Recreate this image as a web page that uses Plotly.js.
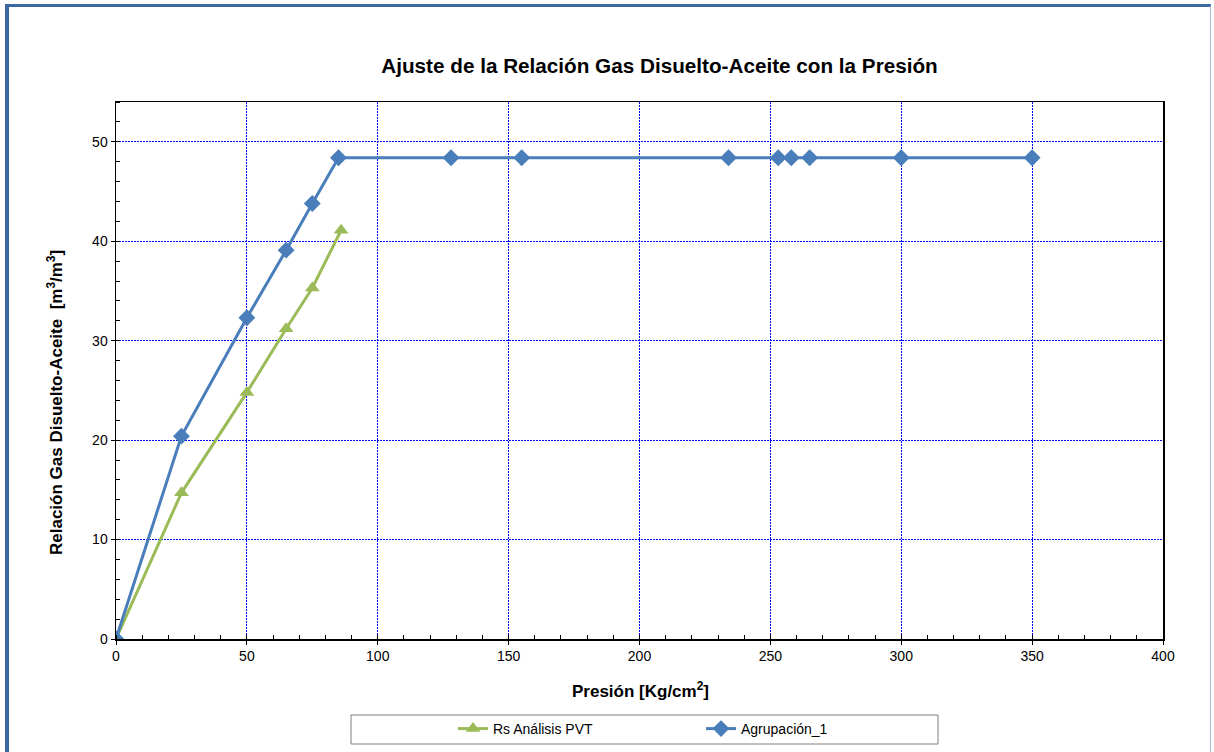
<!DOCTYPE html>
<html>
<head>
<meta charset="utf-8">
<script src="https://cdn.plot.ly/plotly-3.0.1.min.js"></script>
<style>
html,body{margin:0;padding:0;background:#fff;width:1214px;height:752px;overflow:hidden;}
#chart{position:absolute;left:0;top:0;width:1214px;height:752px;}
#frame{position:absolute;left:5px;top:4px;width:1206px;height:760px;border-left:4px solid #3B67A3;border-top:3px solid #3B67A3;border-right:1px solid #A9B8D0;pointer-events:none;box-sizing:border-box;}
</style>
</head>
<body>
<div id="chart"></div>
<div id="frame"></div>
<script>
const rsPresion = [0, 25, 50, 65, 75, 86];
const rsValores = [0, 14.7, 24.8, 31.2, 35.3, 41.1];
const agrPresion = [0, 25, 50, 65, 75, 85, 128, 155, 234, 253, 258, 265, 300, 350];
const agrValores = [0, 20.4, 32.3, 39.1, 43.8, 48.4, 48.4, 48.4, 48.4, 48.4, 48.4, 48.4, 48.4, 48.4];
const nombres = ['Rs Análisis PVT', 'Agrupación_1'];
const titulo = 'Ajuste de la Relación Gas Disuelto-Aceite con la Presión';
const tituloX = 'Presión [Kg/cm<sup>2</sup>]';
const tituloY = 'Relación Gas Disuelto-Aceite  [m<sup>3</sup>/m<sup>3</sup>]';

const font = 'Liberation Sans, Arial, sans-serif';
const L = 116, R = 1163, T = 102, B = 639;
const px = v => (v - L) / (R - L);
const py = v => (B - v) / (B - T);

const traces = [
  {x: rsPresion, y: rsValores, name: nombres[0], type: 'scatter', mode: 'lines+markers',
   line: {color: '#9BBB59', width: 3}, marker: {symbol: 'triangle-up', size: 13, color: '#9BBB59'}},
  {x: agrPresion, y: agrValores, name: nombres[1], type: 'scatter', mode: 'lines+markers',
   line: {color: '#4A7EBB', width: 3}, marker: {symbol: 'diamond', size: 13, color: '#4A7EBB'}}
];

const axisCommon = {
  showline: true, linecolor: '#000', linewidth: 1.5, mirror: true,
  ticks: 'outside', ticklen: 4, tickcolor: '#000', tickwidth: 1,
  showgrid: true, gridcolor: '#0000FF', griddash: '2px,1px', gridwidth: 1,
  zeroline: false, tickfont: {family: font, size: 14, color: '#000'}
};

const layout = {
  width: 1214, height: 752,
  margin: {l: L, r: 1214 - R, t: T, b: 752 - B, autoexpand: false},
  paper_bgcolor: '#fff', plot_bgcolor: '#fff',
  title: {text: '<b>' + titulo + '</b>', font: {family: font, size: 20.7, color: '#000'},
          x: 659.5 / 1214, xref: 'container', xanchor: 'center', y: 1 - 66 / 752, yref: 'container', yanchor: 'middle'},
  xaxis: Object.assign({}, axisCommon, {
    range: [0, 400], dtick: 50, tick0: 0,
    minor: {dtick: 10, ticks: 'inside', ticklen: 4, tickcolor: '#000', showgrid: false}
  }),
  yaxis: Object.assign({}, axisCommon, {
    range: [0, 54], dtick: 10, tick0: 0,
    minor: {dtick: 2, ticks: 'inside', ticklen: 4, tickcolor: '#000', showgrid: false}
  }),
  annotations: [
    {text: '<b>' + tituloX + '</b>', xref: 'paper', yref: 'paper', x: px(640), y: py(690),
     xanchor: 'center', yanchor: 'middle', showarrow: false, font: {family: font, size: 17, color: '#000'}},
    {text: '<b>' + tituloY + '</b>', xref: 'paper', yref: 'paper', x: px(55), y: py(403), textangle: -90,
     xanchor: 'center', yanchor: 'middle', showarrow: false, font: {family: font, size: 17, color: '#000'}}
  ],
  showlegend: true,
  legend: {orientation: 'h', x: px(453), xanchor: 'left', y: py(729), yanchor: 'middle',
           xref: 'paper', yref: 'paper',
           font: {family: font, size: 14, color: '#000'}, entrywidth: 203, entrywidthmode: 'pixels',
           bgcolor: 'rgba(0,0,0,0)', borderwidth: 0, itemwidth: 30},
  shapes: [
    {type: 'rect', xref: 'paper', yref: 'paper', x0: px(351), x1: px(938),
     y0: py(744), y1: py(715), line: {color: '#7F7F7F', width: 1}, fillcolor: 'rgba(0,0,0,0)'}
  ]
};

Plotly.newPlot('chart', traces, layout, {displayModeBar: false, staticPlot: true});
</script>
</body>
</html>
